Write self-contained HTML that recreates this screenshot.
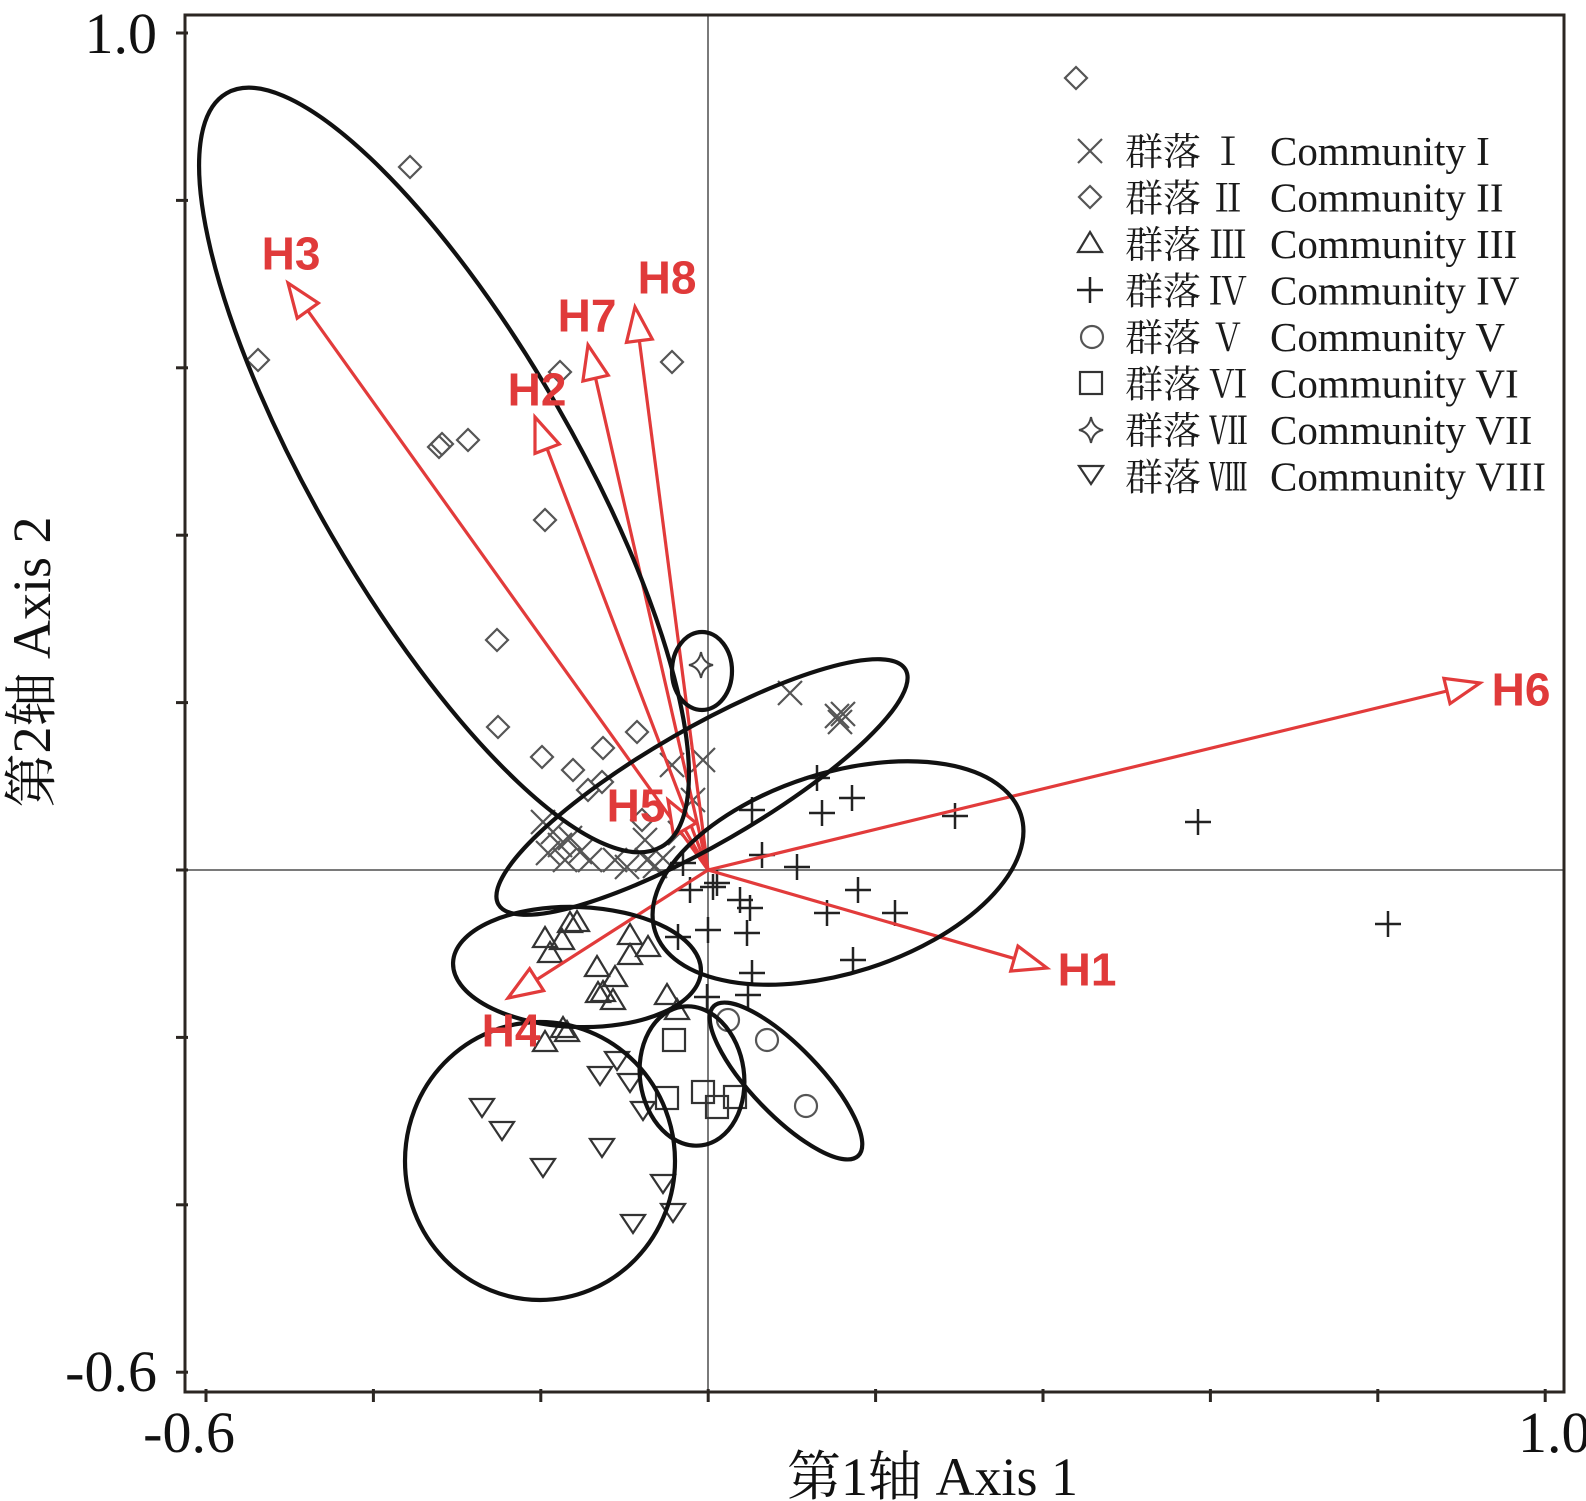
<!DOCTYPE html>
<html>
<head>
<meta charset="utf-8">
<style>
html,body{margin:0;padding:0;background:#fff;}
svg{display:block;}
.ser{font-family:"Liberation Serif","Noto Serif CJK SC",serif;}
.lab{font-family:"Liberation Sans",Arial,sans-serif;font-weight:bold;font-size:46px;fill:#e03a3a;text-anchor:middle;}
</style>
</head>
<body>
<svg width="1586" height="1501" viewBox="0 0 1586 1501" xmlns="http://www.w3.org/2000/svg">
<defs>
  <g id="mx"><path d="M-12,-12 L12,12 M-12,12 L12,-12" stroke="#555" stroke-width="2.2" fill="none"/></g>
  <g id="md"><path d="M0,-11 L11,0 L0,11 L-11,0Z" stroke="#555" stroke-width="2.2" fill="none"/></g>
  <g id="mt"><path d="M0,-11 L12,9 L-12,9Z" stroke="#333" stroke-width="2.2" fill="none"/></g>
  <g id="mv"><path d="M-12,-8 L12,-8 L0,10Z" stroke="#333" stroke-width="2.2" fill="none"/></g>
  <g id="mp"><path d="M-13,0 H13 M0,-13 V13" stroke="#222" stroke-width="2.5" fill="none"/></g>
  <g id="mo"><circle cx="0" cy="0" r="11" stroke="#555" stroke-width="2.2" fill="none"/></g>
  <g id="ms"><rect x="-11" y="-11" width="22" height="22" stroke="#333" stroke-width="2.2" fill="none"/></g>
  <g id="mk"><path d="M0,-13 Q2,-2 12,0 Q2,2 0,13 Q-2,2 -12,0 Q-2,-2 0,-13Z" stroke="#444" stroke-width="2" fill="none"/></g>
  <marker id="ah" markerUnits="userSpaceOnUse" markerWidth="60" markerHeight="40" viewBox="-45 -20 60 40" refX="0" refY="0" orient="auto" overflow="visible">
    <path d="M0,0 L-34,-13 L-34,13 Z" fill="#fff" stroke="#e23b3b" stroke-width="3.2"/>
  </marker>
</defs>

<!-- zero lines -->
<line x1="708" y1="15" x2="708" y2="1392" stroke="#7a7a7a" stroke-width="2"/>
<line x1="185" y1="870" x2="1564" y2="870" stroke="#7a7a7a" stroke-width="2"/>

<!-- frame -->
<rect x="185" y="15" width="1379" height="1377" fill="none" stroke="#2b2622" stroke-width="3"/>

<!-- ticks -->
<g stroke="#2b2622" stroke-width="3">
  <line x1="176" y1="33" x2="188" y2="33"/>
  <line x1="176" y1="200.4" x2="188" y2="200.4"/>
  <line x1="176" y1="367.8" x2="188" y2="367.8"/>
  <line x1="176" y1="535.2" x2="188" y2="535.2"/>
  <line x1="176" y1="702.6" x2="188" y2="702.6"/>
  <line x1="176" y1="870" x2="188" y2="870"/>
  <line x1="176" y1="1037.4" x2="188" y2="1037.4"/>
  <line x1="176" y1="1204.8" x2="188" y2="1204.8"/>
  <line x1="176" y1="1372.2" x2="188" y2="1372.2"/>
  <line x1="206" y1="1389" x2="206" y2="1402"/>
  <line x1="373.4" y1="1389" x2="373.4" y2="1402"/>
  <line x1="540.8" y1="1389" x2="540.8" y2="1402"/>
  <line x1="708.2" y1="1389" x2="708.2" y2="1402"/>
  <line x1="875.6" y1="1389" x2="875.6" y2="1402"/>
  <line x1="1043" y1="1389" x2="1043" y2="1402"/>
  <line x1="1210.4" y1="1389" x2="1210.4" y2="1402"/>
  <line x1="1377.8" y1="1389" x2="1377.8" y2="1402"/>
  <line x1="1545.2" y1="1389" x2="1545.2" y2="1402"/>
</g>

<!-- tick labels -->
<g class="ser" font-size="58" fill="#111">
  <text x="157" y="53" text-anchor="end">1.0</text>
  <text x="157" y="1391" text-anchor="end">-0.6</text>
  <text x="235" y="1452" text-anchor="end">-0.6</text>
  <text x="1518" y="1452">1.0</text>
</g>

<!-- axis titles -->
<text class="ser" x="787" y="1495" font-size="54" fill="#111">第1轴 Axis 1</text>
<text class="ser" transform="translate(50,662) rotate(-90)" x="0" y="0" font-size="54" fill="#111" text-anchor="middle">第2轴 Axis 2</text>

<!-- markers: Community II diamonds -->
<g>
<use href="#md" x="1076" y="78"/><use href="#md" x="410" y="167"/><use href="#md" x="258" y="360"/>
<use href="#md" x="560" y="372"/><use href="#md" x="672" y="362"/><use href="#md" x="439" y="447"/>
<use href="#md" x="442" y="444"/><use href="#md" x="468" y="440"/><use href="#md" x="545" y="520"/>
<use href="#md" x="497" y="640"/><use href="#md" x="498" y="727"/><use href="#md" x="542" y="757"/>
<use href="#md" x="573" y="770"/><use href="#md" x="603" y="748"/><use href="#md" x="637" y="732"/>
<use href="#md" x="588" y="790"/><use href="#md" x="602" y="782"/><use href="#md" x="642" y="820"/>
</g>
<!-- Community I X -->
<g>
<use href="#mx" x="790" y="693"/><use href="#mx" x="837" y="716"/><use href="#mx" x="840" y="722"/>
<use href="#mx" x="843" y="714"/><use href="#mx" x="672" y="765"/><use href="#mx" x="703" y="760"/>
<use href="#mx" x="693" y="800"/><use href="#mx" x="680" y="833"/><use href="#mx" x="645" y="840"/>
<use href="#mx" x="543" y="822"/><use href="#mx" x="553" y="832"/><use href="#mx" x="560" y="845"/>
<use href="#mx" x="570" y="838"/><use href="#mx" x="580" y="852"/><use href="#mx" x="548" y="853"/>
<use href="#mx" x="590" y="860"/><use href="#mx" x="565" y="860"/><use href="#mx" x="615" y="860"/>
<use href="#mx" x="627" y="867"/><use href="#mx" x="647" y="860"/><use href="#mx" x="655" y="866"/>
<use href="#mx" x="663" y="858"/>
</g>
<!-- Community IV plus -->
<g>
<use href="#mp" x="817" y="778"/><use href="#mp" x="852" y="798"/><use href="#mp" x="822" y="813"/>
<use href="#mp" x="752" y="810"/><use href="#mp" x="955" y="816"/><use href="#mp" x="1198" y="822"/>
<use href="#mp" x="1388" y="924"/><use href="#mp" x="762" y="855"/><use href="#mp" x="797" y="867"/>
<use href="#mp" x="858" y="890"/><use href="#mp" x="895" y="913"/><use href="#mp" x="827" y="913"/>
<use href="#mp" x="690" y="890"/><use href="#mp" x="713" y="887"/><use href="#mp" x="717" y="883"/>
<use href="#mp" x="740" y="900"/><use href="#mp" x="750" y="908"/><use href="#mp" x="678" y="937"/>
<use href="#mp" x="708" y="930"/><use href="#mp" x="747" y="933"/><use href="#mp" x="853" y="960"/>
<use href="#mp" x="752" y="973"/><use href="#mp" x="707" y="997"/><use href="#mp" x="748" y="995"/>
<use href="#mp" x="683" y="863"/>
</g>
<!-- Community III triangles -->
<g>
<use href="#mt" x="570" y="923"/><use href="#mt" x="577" y="922"/><use href="#mt" x="545" y="938"/>
<use href="#mt" x="562" y="940"/><use href="#mt" x="550" y="953"/><use href="#mt" x="630" y="935"/>
<use href="#mt" x="648" y="947"/><use href="#mt" x="630" y="955"/><use href="#mt" x="597" y="967"/>
<use href="#mt" x="615" y="977"/><use href="#mt" x="598" y="993"/><use href="#mt" x="603" y="992"/>
<use href="#mt" x="613" y="1000"/><use href="#mt" x="667" y="995"/><use href="#mt" x="677" y="1010"/>
<use href="#mt" x="563" y="1028"/><use href="#mt" x="567" y="1032"/><use href="#mt" x="545" y="1042"/>
</g>
<!-- Community VI squares -->
<g>
<use href="#ms" x="674" y="1040"/><use href="#ms" x="667" y="1098"/><use href="#ms" x="703" y="1092"/>
<use href="#ms" x="717" y="1107"/><use href="#ms" x="735" y="1097"/>
</g>
<!-- Community V circles -->
<g>
<use href="#mo" x="728" y="1020"/><use href="#mo" x="767" y="1040"/><use href="#mo" x="806" y="1106"/>
</g>
<!-- Community VIII down triangles -->
<g>
<use href="#mv" x="482" y="1107"/><use href="#mv" x="502" y="1130"/><use href="#mv" x="543" y="1167"/>
<use href="#mv" x="602" y="1147"/><use href="#mv" x="617" y="1060"/><use href="#mv" x="600" y="1075"/>
<use href="#mv" x="630" y="1082"/><use href="#mv" x="643" y="1110"/><use href="#mv" x="663" y="1183"/>
<use href="#mv" x="673" y="1212"/><use href="#mv" x="633" y="1223"/>
</g>
<!-- Community VII star -->
<use href="#mk" x="701" y="665"/>

<!-- arrows -->
<g stroke="#e23b3b" stroke-width="3.2" fill="none" marker-end="url(#ah)">
  <line x1="708" y1="870" x2="1047" y2="968"/>
  <line x1="708" y1="870" x2="535" y2="417"/>
  <line x1="708" y1="870" x2="288" y2="283"/>
  <line x1="708" y1="870" x2="508" y2="998"/>
  <line x1="708" y1="870" x2="668" y2="800"/>
  <line x1="708" y1="870" x2="1480" y2="683"/>
  <line x1="708" y1="870" x2="588" y2="345"/>
  <line x1="708" y1="870" x2="635" y2="307"/>
</g>

<!-- ellipses -->
<g fill="none" stroke="#111" stroke-width="4.2">
  <ellipse cx="444" cy="470" rx="435" ry="130" transform="rotate(60 444 470)"/>
  <ellipse cx="702" cy="671" rx="30" ry="39"/>
  <ellipse cx="702" cy="787" rx="235" ry="58" transform="rotate(-30 702 787)"/>
  <ellipse cx="838" cy="873" rx="192" ry="100" transform="rotate(-17.7 838 873)"/>
  <ellipse cx="577" cy="967" rx="124" ry="60" transform="rotate(2 577 967)"/>
  <ellipse cx="540" cy="1161" rx="135" ry="139"/>
  <ellipse cx="692" cy="1076" rx="52" ry="70" transform="rotate(-8 692 1076)"/>
  <ellipse cx="786" cy="1081" rx="104" ry="34" transform="rotate(46 786 1081)"/>
</g>

<!-- arrow labels -->
<text class="lab" x="1087" y="985.5">H1</text>
<text class="lab" x="537" y="405.5">H2</text>
<text class="lab" x="291" y="269.5">H3</text>
<text class="lab" x="511" y="1046.5">H4</text>
<text class="lab" x="636" y="821.5">H5</text>
<text class="lab" x="1521" y="705.5">H6</text>
<text class="lab" x="587" y="331.5">H7</text>
<text class="lab" x="667" y="293.5">H8</text>

<!-- legend -->
<g>
  <use href="#mx" x="1090" y="151"/>
  <use href="#md" x="1090" y="197"/>
  <use href="#mt" x="1090" y="243"/>
  <use href="#mp" x="1090" y="290"/>
  <use href="#mo" x="1092" y="337"/>
  <use href="#ms" x="1091" y="383"/>
  <use href="#mk" x="1091" y="430"/>
  <use href="#mv" x="1091" y="474"/>
</g>
<g class="ser" font-size="38" fill="#1a1a1a">
  <text x="1125" y="165">群落</text>
  <text x="1125" y="211.5">群落</text>
  <text x="1125" y="258">群落</text>
  <text x="1125" y="304.5">群落</text>
  <text x="1125" y="351">群落</text>
  <text x="1125" y="397.5">群落</text>
  <text x="1125" y="444">群落</text>
  <text x="1125" y="490.5">群落</text>
</g>
<g class="ser" font-size="38" fill="#1a1a1a" text-anchor="middle">
  <text x="1228" y="165">Ⅰ</text>
  <text x="1228" y="211.5">Ⅱ</text>
  <text x="1228" y="258">Ⅲ</text>
  <text x="1228" y="304.5">Ⅳ</text>
  <text x="1228" y="351">Ⅴ</text>
  <text x="1228" y="397.5">Ⅵ</text>
  <text x="1228" y="444">Ⅶ</text>
  <text x="1228" y="490.5">Ⅷ</text>
</g>
<g class="ser" font-size="41" fill="#1a1a1a">
  <text x="1270" y="165">Community I</text>
  <text x="1270" y="211.5">Community II</text>
  <text x="1270" y="258">Community III</text>
  <text x="1270" y="304.5">Community IV</text>
  <text x="1270" y="351">Community V</text>
  <text x="1270" y="397.5">Community VI</text>
  <text x="1270" y="444">Community VII</text>
  <text x="1270" y="490.5">Community VIII</text>
</g>
</svg>
</body>
</html>
